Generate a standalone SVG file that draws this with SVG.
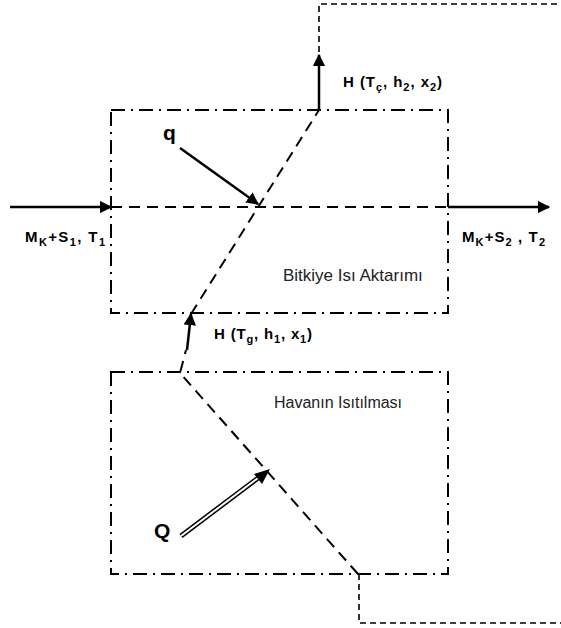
<svg xmlns="http://www.w3.org/2000/svg" width="561" height="628" viewBox="0 0 561 628">
<defs>
<style>
.box{fill:none;stroke:#000;stroke-width:2;stroke-dasharray:14 6 2 6}
.dash{fill:none;stroke:#000;stroke-width:2;stroke-dasharray:11 7}
.dot{fill:none;stroke:#000;stroke-width:1.6;stroke-dasharray:6 4}
.arr{fill:none;stroke:#000;stroke-width:2.5}
.lbl{font-family:"Liberation Sans",Arial,sans-serif;font-weight:bold;font-size:15px;fill:#000}
.sub{font-size:11px}
.big{font-family:"Liberation Sans",Arial,sans-serif;font-weight:bold;font-size:21px;fill:#000}
.reg{font-family:"Liberation Sans",Arial,sans-serif;font-size:17px;fill:#222}
</style>
<marker id="ah" viewBox="0 0 10 10" refX="9" refY="5" markerWidth="5" markerHeight="5" orient="auto" markerUnits="strokeWidth">
<path d="M0,0 L10,5 L0,10 z" fill="#000"/>
</marker>
</defs>
<g id="box-top"><rect class="box" x="111" y="110" width="337" height="203"/></g>
<g id="box-bottom"><rect class="box" x="111" y="372" width="337" height="202"/></g>
<g id="connectors">
<line class="dash" x1="111" y1="207" x2="448" y2="207"/>
<line class="arr" x1="10" y1="207" x2="111" y2="207" marker-end="url(#ah)"/>
<line class="arr" x1="448" y1="207" x2="549" y2="207" marker-end="url(#ah)"/>
<polyline class="dash" points="358,574 180,373 186,350"/>
<line class="arr" x1="187" y1="350" x2="191" y2="314" stroke-width="2" marker-end="url(#ah)"/>
<line class="dash" x1="191" y1="314" x2="319" y2="110"/>
<line class="arr" x1="319" y1="110" x2="319" y2="55" marker-end="url(#ah)"/>
<polyline class="dot" points="319,52 319,4 561,4"/>
<polyline class="dot" points="359,574 359,623 561,623"/>
<line class="arr" x1="180" y1="148" x2="258" y2="204" marker-end="url(#ah)"/>
<line x1="181" y1="536" x2="262" y2="475" stroke="#000" stroke-width="5"/>
<line x1="181" y1="536" x2="262" y2="475" stroke="#fff" stroke-width="2"/>
<path d="M270,469 L254,474 L262,484 z" fill="#000"/>
</g>
<g id="labels">
<text class="big" x="163" y="140">q</text>
<text class="big" x="154" y="538">Q</text>
<text class="lbl" x="343" y="87" textLength="99" lengthAdjust="spacing">H (T<tspan class="sub" dy="4">ç</tspan><tspan dy="-4">, h</tspan><tspan class="sub" dy="4">2</tspan><tspan dy="-4">, x</tspan><tspan class="sub" dy="4">2</tspan><tspan dy="-4">)</tspan></text>
<text class="lbl" x="214" y="339" textLength="98" lengthAdjust="spacing">H (T<tspan class="sub" dy="4">g</tspan><tspan dy="-4">, h</tspan><tspan class="sub" dy="4">1</tspan><tspan dy="-4">, x</tspan><tspan class="sub" dy="4">1</tspan><tspan dy="-4">)</tspan></text>
<text class="lbl" x="25" y="242" textLength="80" lengthAdjust="spacing">M<tspan class="sub" dy="4">K</tspan><tspan dy="-4">+S</tspan><tspan class="sub" dy="4">1</tspan><tspan dy="-4">, T</tspan><tspan class="sub" dy="4">1</tspan></text>
<text class="lbl" x="462" y="242" textLength="83" lengthAdjust="spacing">M<tspan class="sub" dy="4">K</tspan><tspan dy="-4">+S</tspan><tspan class="sub" dy="4">2</tspan><tspan dy="-4"> , T</tspan><tspan class="sub" dy="4">2</tspan></text>
<text class="reg" x="283" y="281">Bitkiye Isı Aktarımı</text>
<text class="reg" x="274" y="408" style="font-size:16px">Havanın Isıtılması</text>
</g>
</svg>
